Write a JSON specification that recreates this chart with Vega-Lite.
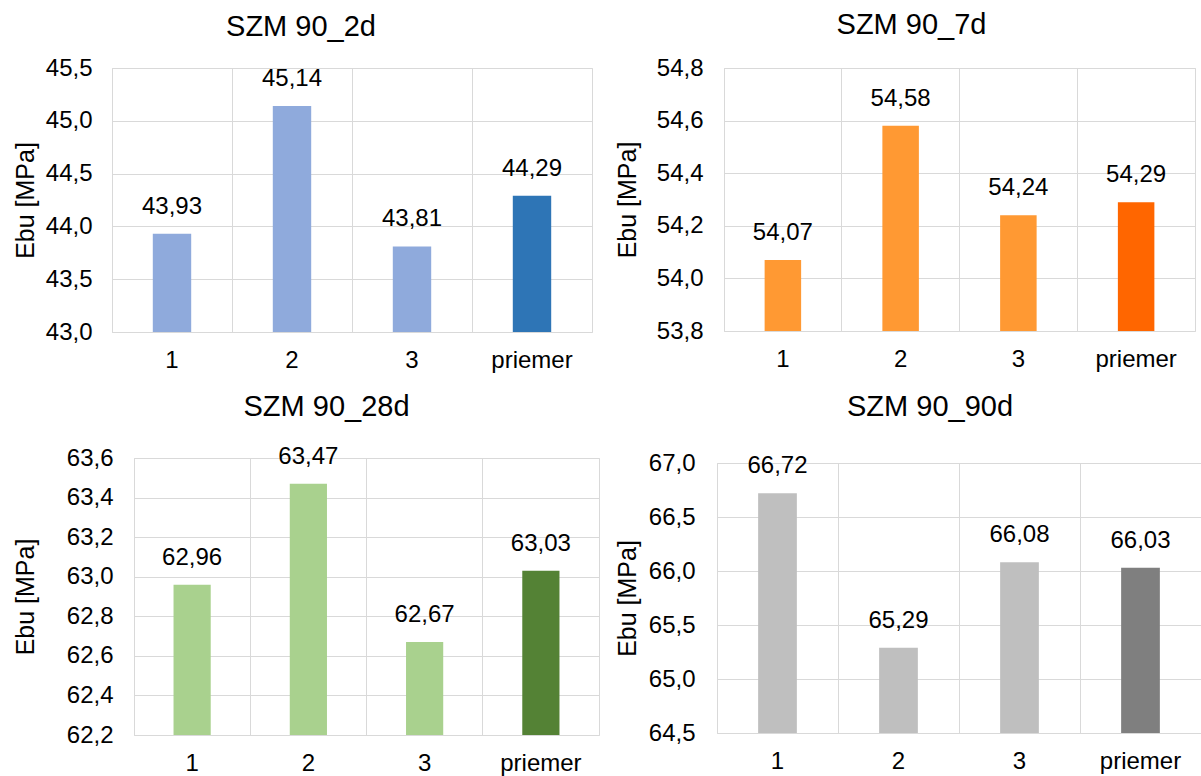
{
  "$schema": "https://vega.github.io/schema/vega-lite/v6.json",
  "background": "white",
  "padding": {"left": 11, "top": 10, "right": 0, "bottom": 0},
  "columns": 2,
  "align": "none",
  "spacing": {"row": 19, "column": 14},
  "resolve": {"scale": {"color": "independent", "x": "independent", "y": "independent"}},
  "config": {
    "font": "Liberation Sans",
    "locale": {"number": {"decimal": ",", "thousands": "\u00a0", "grouping": [3], "currency": ["", " €"]}},
    "view": {"stroke": "#D9D9D9", "strokeWidth": 1},
    "title": {"fontSize": 29, "fontWeight": "normal", "color": "#000000", "font": "Liberation Sans", "baseline": "alphabetic", "anchor": "middle"},
    "axis": {"labelFont": "Liberation Sans", "labelFontSize": 24, "labelColor": "#000000", "titleFont": "Liberation Sans", "titleFontSize": 25, "titleFontWeight": "normal", "titleColor": "#000000", "ticks": false, "tickSize": 0, "domain": false, "gridColor": "#D9D9D9", "gridWidth": 1, "gridOpacity": 1}
  },
  "datasets": {
    "d": [
      {"panel": "SZM 90_2d", "vzorka": "1", "Ebu": 43.93},
      {"panel": "SZM 90_2d", "vzorka": "2", "Ebu": 45.14},
      {"panel": "SZM 90_2d", "vzorka": "3", "Ebu": 43.81},
      {"panel": "SZM 90_2d", "vzorka": "priemer", "Ebu": 44.29},
      {"panel": "SZM 90_7d", "vzorka": "1", "Ebu": 54.07},
      {"panel": "SZM 90_7d", "vzorka": "2", "Ebu": 54.58},
      {"panel": "SZM 90_7d", "vzorka": "3", "Ebu": 54.24},
      {"panel": "SZM 90_7d", "vzorka": "priemer", "Ebu": 54.29},
      {"panel": "SZM 90_28d", "vzorka": "1", "Ebu": 62.96},
      {"panel": "SZM 90_28d", "vzorka": "2", "Ebu": 63.47},
      {"panel": "SZM 90_28d", "vzorka": "3", "Ebu": 62.67},
      {"panel": "SZM 90_28d", "vzorka": "priemer", "Ebu": 63.03},
      {"panel": "SZM 90_90d", "vzorka": "1", "Ebu": 66.72},
      {"panel": "SZM 90_90d", "vzorka": "2", "Ebu": 65.29},
      {"panel": "SZM 90_90d", "vzorka": "3", "Ebu": 66.08},
      {"panel": "SZM 90_90d", "vzorka": "priemer", "Ebu": 66.03}
    ]
  },
  "concat": [
    {
      "spacing": 0,
      "resolve": {"scale": {"color": "independent", "x": "independent", "y": "independent"}},
      "hconcat": [
        {"width": 1, "height": 1, "data": {"values": []}, "mark": "rect", "view": {"stroke": null}},
        {
          "title": {"text": "SZM 90_2d", "offset": 14, "dx": -51},
          "width": 480, "height": 264,
          "data": {"name": "d"},
          "transform": [{"filter": "datum.panel === 'SZM 90_2d'"}],
          "encoding": {
            "x": {"field": "vzorka", "type": "nominal", "sort": null, "scale": {"paddingInner": 0, "paddingOuter": 0}, "axis": {"title": null, "labelAngle": 0, "labelPadding": 16, "grid": true, "bandPosition": 0}},
            "y": {"field": "Ebu", "type": "quantitative", "scale": {"domain": [43, 45.5], "nice": false, "zero": false}, "axis": {"title": "Ebu [MPa]", "values": [43, 43.5, 44, 44.5, 45, 45.5], "format": ".1f", "labelPadding": 20, "titlePadding": 7, "grid": true}}
          },
          "layer": [
            {"mark": {"type": "bar", "clip": true, "width": {"band": 0.32}}, "encoding": {"color": {"field": "vzorka", "type": "nominal", "scale": {"domain": ["1", "2", "3", "priemer"], "range": ["#8FAADC", "#8FAADC", "#8FAADC", "#2E75B6"]}, "legend": null}}},
            {"mark": {"type": "text", "baseline": "alphabetic", "dy": -20, "fontSize": 24, "color": "#000000"}, "encoding": {"text": {"field": "Ebu", "type": "quantitative", "format": ".2f"}}}
          ]
        }
      ]
    },
    {
      "title": {"text": "SZM 90_7d", "offset": 16, "dx": -48},
      "width": 471, "height": 263,
      "data": {"name": "d"},
      "transform": [{"filter": "datum.panel === 'SZM 90_7d'"}],
      "encoding": {
        "x": {"field": "vzorka", "type": "nominal", "sort": null, "scale": {"paddingInner": 0, "paddingOuter": 0}, "axis": {"title": null, "labelAngle": 0, "labelPadding": 16, "grid": true, "bandPosition": 0}},
        "y": {"field": "Ebu", "type": "quantitative", "scale": {"domain": [53.8, 54.8], "nice": false, "zero": false}, "axis": {"title": "Ebu [MPa]", "values": [53.8, 54.0, 54.2, 54.4, 54.6, 54.8], "format": ".1f", "labelPadding": 21, "titlePadding": 16, "grid": true}}
      },
      "layer": [
        {"mark": {"type": "bar", "clip": true, "width": {"band": 0.31}}, "encoding": {"color": {"field": "vzorka", "type": "nominal", "scale": {"domain": ["1", "2", "3", "priemer"], "range": ["#FF9933", "#FF9933", "#FF9933", "#FF6600"]}, "legend": null}}},
        {"mark": {"type": "text", "baseline": "alphabetic", "dy": -20, "fontSize": 24, "color": "#000000"}, "encoding": {"text": {"field": "Ebu", "type": "quantitative", "format": ".2f"}}}
      ]
    },
    {
      "spacing": 0,
      "resolve": {"scale": {"color": "independent", "x": "independent", "y": "independent"}},
      "hconcat": [
        {"width": 1, "height": 1, "data": {"values": []}, "mark": "rect", "view": {"stroke": null}},
        {
          "title": {"text": "SZM 90_28d", "offset": 23, "dx": -40},
          "width": 465, "height": 277,
          "data": {"name": "d"},
          "transform": [{"filter": "datum.panel === 'SZM 90_28d'"}],
          "encoding": {
            "x": {"field": "vzorka", "type": "nominal", "sort": null, "scale": {"paddingInner": 0, "paddingOuter": 0}, "axis": {"title": null, "labelAngle": 0, "labelPadding": 16, "grid": true, "bandPosition": 0}},
            "y": {"field": "Ebu", "type": "quantitative", "scale": {"domain": [62.2, 63.6], "nice": false, "zero": false}, "axis": {"title": "Ebu [MPa]", "values": [62.2, 62.4, 62.6, 62.8, 63.0, 63.2, 63.4, 63.6], "format": ".1f", "labelPadding": 21, "titlePadding": 28, "grid": true}}
          },
          "layer": [
            {"mark": {"type": "bar", "clip": true, "width": {"band": 0.32}}, "encoding": {"color": {"field": "vzorka", "type": "nominal", "scale": {"domain": ["1", "2", "3", "priemer"], "range": ["#A9D18E", "#A9D18E", "#A9D18E", "#548235"]}, "legend": null}}},
            {"mark": {"type": "text", "baseline": "alphabetic", "dy": -20, "fontSize": 24, "color": "#000000"}, "encoding": {"text": {"field": "Ebu", "type": "quantitative", "format": ".2f"}}}
          ]
        }
      ]
    },
    {
      "title": {"text": "SZM 90_90d", "offset": 29, "dx": -29},
      "width": 484, "height": 270,
      "data": {"name": "d"},
      "transform": [{"filter": "datum.panel === 'SZM 90_90d'"}],
      "encoding": {
        "x": {"field": "vzorka", "type": "nominal", "sort": null, "scale": {"paddingInner": 0, "paddingOuter": 0}, "axis": {"title": null, "labelAngle": 0, "labelPadding": 16, "grid": true, "bandPosition": 0}},
        "y": {"field": "Ebu", "type": "quantitative", "scale": {"domain": [64.5, 67], "nice": false, "zero": false}, "axis": {"title": "Ebu [MPa]", "values": [64.5, 65, 65.5, 66, 66.5, 67], "format": ".1f", "labelPadding": 22, "titlePadding": 8, "grid": true}}
      },
      "layer": [
        {"mark": {"type": "bar", "clip": true, "width": {"band": 0.32}}, "encoding": {"color": {"field": "vzorka", "type": "nominal", "scale": {"domain": ["1", "2", "3", "priemer"], "range": ["#BFBFBF", "#BFBFBF", "#BFBFBF", "#7F7F7F"]}, "legend": null}}},
        {"mark": {"type": "text", "baseline": "alphabetic", "dy": -20, "fontSize": 24, "color": "#000000"}, "encoding": {"text": {"field": "Ebu", "type": "quantitative", "format": ".2f"}}}
      ]
    }
  ]
}
